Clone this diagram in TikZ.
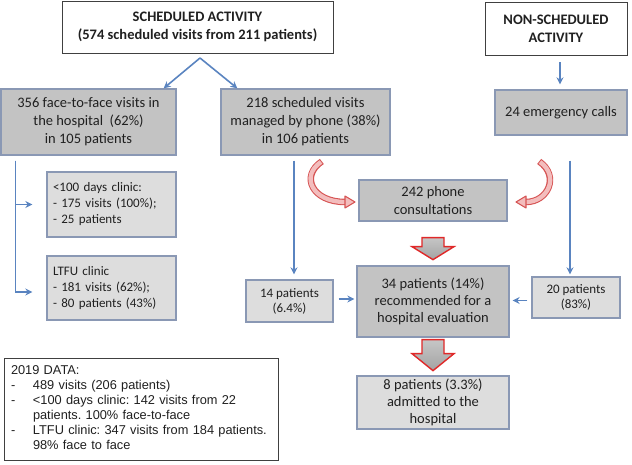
\documentclass[tikz,border=0pt]{standalone}
\usepackage{fontspec}
\setmainfont{Carlito}
\newfontfamily\arialf{Liberation Sans}
\usetikzlibrary{calc,arrows.meta,shadows}
\definecolor{boxdark}{HTML}{C3C3C3}
\definecolor{boxlight}{HTML}{DDDDDD}
\definecolor{boxedge}{HTML}{8A98B4}
\definecolor{arrowblue}{HTML}{5A84C0}
\definecolor{txt}{HTML}{202020}
\definecolor{curvered}{HTML}{D65454}
\definecolor{curvepink}{HTML}{F3BDBD}
\definecolor{blockred}{HTML}{E02828}
\frenchspacing
\begin{document}
\begin{tikzpicture}[x=1pt,y=1pt,
  base/.style={rectangle, inner sep=0pt, align=center, text=txt, font=\fontsize{14.5}{18}\selectfont},
  boldtxt/.style={font=\bfseries\fontsize{14.5}{18}\selectfont},
  smalltxt/.style={font=\fontsize{13}{16}\selectfont},
  whitebox/.style={base, draw=black!75, line width=0.9pt, fill=white},
  darkbox/.style={base, draw=boxedge, line width=1.3pt, fill=boxdark, drop shadow={shadow xshift=1pt,shadow yshift=-1pt,opacity=0.25}},
  lightbox/.style={darkbox, fill=boxlight},
  link/.style={draw=arrowblue, line width=1.6pt, -{Stealth[length=7pt,width=7pt]}},
  blockarrow/.style={draw=blockred, line width=1.4pt, top color=gray!45, bottom color=gray!72, line join=miter},
  curveouter/.style={draw=curvered, line width=6.5pt},
  curveinner/.style={draw=curvepink, line width=4.3pt},
  curvehead/.style={draw=curvered, fill=curvepink, line width=1.1pt, line join=round}
]
\useasboundingbox (0,0) rectangle (632,464);

% nodes
\node[whitebox, boldtxt, minimum width=271pt, minimum height=52pt] (sched) at (197.5,437) {SCHEDULED ACTIVITY\\(574 scheduled visits from 211 patients)};
\node[whitebox, boldtxt, minimum width=142pt, minimum height=53pt] (nonsched) at (556,435.5) {NON-SCHEDULED\\ACTIVITY};
\node[darkbox, minimum width=175pt, minimum height=66pt] (f2f) at (88.5,342) {356 face-to-face visits in\\the hospital~ (62\%)\\in 105 patients};
\node[darkbox, minimum width=169pt, minimum height=66pt] (ph218) at (305.5,342) {218 scheduled visits\\managed by phone (38\%)\\in 106 patients};
\node[darkbox, minimum width=132pt, minimum height=45pt] (emerg) at (561,351.5) {24 emergency calls};
\node[lightbox, smalltxt, minimum width=129pt, minimum height=65pt, inner xsep=6pt, text width=117pt, align=left] (c100) at (111.5,259.5) {<100 days clinic:\\- 175 visits (100\%);\\- 25 patients};
\node[lightbox, smalltxt, minimum width=129pt, minimum height=64pt, inner xsep=6pt, text width=117pt, align=left] (ltfu) at (111.5,176) {LTFU clinic\\- 181 visits (62\%);\\- 80 patients (43\%)};
\node[darkbox, minimum width=148pt, minimum height=41pt] (ph242) at (433,263.5) {242 phone\\consultations};
\node[lightbox, smalltxt, minimum width=87pt, minimum height=42pt, font=\fontsize{13}{15}\selectfont] (p14) at (289.5,163) {14 patients\\(6.4\%)};
\node[darkbox, minimum width=152pt, minimum height=71pt, font=\fontsize{14.5}{17}\selectfont] (rec34) at (433,162.5) {34 patients (14\%)\\recommended for a\\hospital evaluation};
\node[lightbox, minimum width=88pt, minimum height=41pt, font=\fontsize{13}{15}\selectfont] (p20) at (576,166.5) {20 patients\\(83\%)};
\node[lightbox, minimum width=152pt, minimum height=53pt, font=\fontsize{14.5}{17}\selectfont] (adm8) at (433,61.5) {8 patients (3.3\%)\\admitted to the\\hospital};
\node[whitebox, minimum width=274pt, minimum height=102pt, inner xsep=7pt, text width=260pt, align=left, font=\arialf\frenchspacing\fontsize{12.8}{15}\selectfont] (d2019) at (141,55) {%
\begin{tabular}{@{}p{22pt}@{}l@{}}
\multicolumn{2}{@{}l@{}}{2019 DATA:}\\
- & 489 visits (206 patients)\\
- & <100 days clinic: 142 visits from 22\\
  & patients. 100\% face-to-face\\
- & LTFU clinic: 347 visits from 184 patients.\\
  & 98\% face to face
\end{tabular}};

% blue connectors
\coordinate (apex) at (200,406);
\draw[link] (apex) -- ([xshift=-13pt]f2f.north east);
\draw[link] (apex) -- ([xshift=17pt]ph218.north west);
\coordinate (n1) at ($(nonsched.south)+(4,-7)$);
\draw[link, shorten >=5pt] (n1) -- (n1 |- emerg.north);
\coordinate (b0) at ($(f2f.south west)+(15,-5)$);
\draw[link] (b0) |- ([xshift=-14pt]c100.west);
\draw[link] (b0) |- ([xshift=-14pt,yshift=-4pt]ltfu.west);
\coordinate (d1) at ($(ph218.south)+(-11.5,-5)$);
\draw[link, shorten >=5pt] (d1) -- (d1 |- p14.north);
\coordinate (d2) at ($(emerg.south)+(9,-25)$);
\draw[link, shorten >=2pt] (d2) -- (d2 |- p20.north);
\draw[link, shorten <=5pt, shorten >=2pt] ([yshift=2pt]p14.east) -- ([yshift=2pt]p14.east -| rec34.west);
\draw[link, shorten <=4pt, shorten >=3pt] ([yshift=-3pt]p20.west) -- ([yshift=-3pt]p20.west -| rec34.east);

% block arrows
\draw[blockarrow] ($(ph242.south)+(-11,-16)$) -- ++(22,0) -- ++(0,-9) -- ++(10,0) -- ++(-21,-13) -- ++(-21,13) -- ++(10,0) -- cycle;
\draw[blockarrow] ($(rec34.south)+(-11,-2)$) -- ++(22,0) -- ++(0,-14) -- ++(10,0) -- ++(-21,-17) -- ++(-21,17) -- ++(10,0) -- cycle;

% curved arrows
\coordinate (c1s) at (321,302);
\coordinate (c1e) at (345,262);
\draw[curveouter, shorten <=-1pt] (c1s) .. controls (300,288) and (312,262) .. (c1e);
\draw[curveinner] (c1s) .. controls (300,288) and (312,262) .. (c1e);
\draw[curvehead] ($(c1e)+(0,6)$) -- ($(c1e)+(10,0)$) -- ($(c1e)+(0,-6)$) -- cycle;
\coordinate (c2s) at (540,302);
\coordinate (c2e) at (526,262);
\draw[curveouter, shorten <=-1pt] (c2s) .. controls (560,288) and (548,262) .. (c2e);
\draw[curveinner] (c2s) .. controls (560,288) and (548,262) .. (c2e);
\draw[curvehead] ($(c2e)+(0,6)$) -- ($(c2e)+(-10,0)$) -- ($(c2e)+(0,-6)$) -- cycle;
\end{tikzpicture}
\end{document}
